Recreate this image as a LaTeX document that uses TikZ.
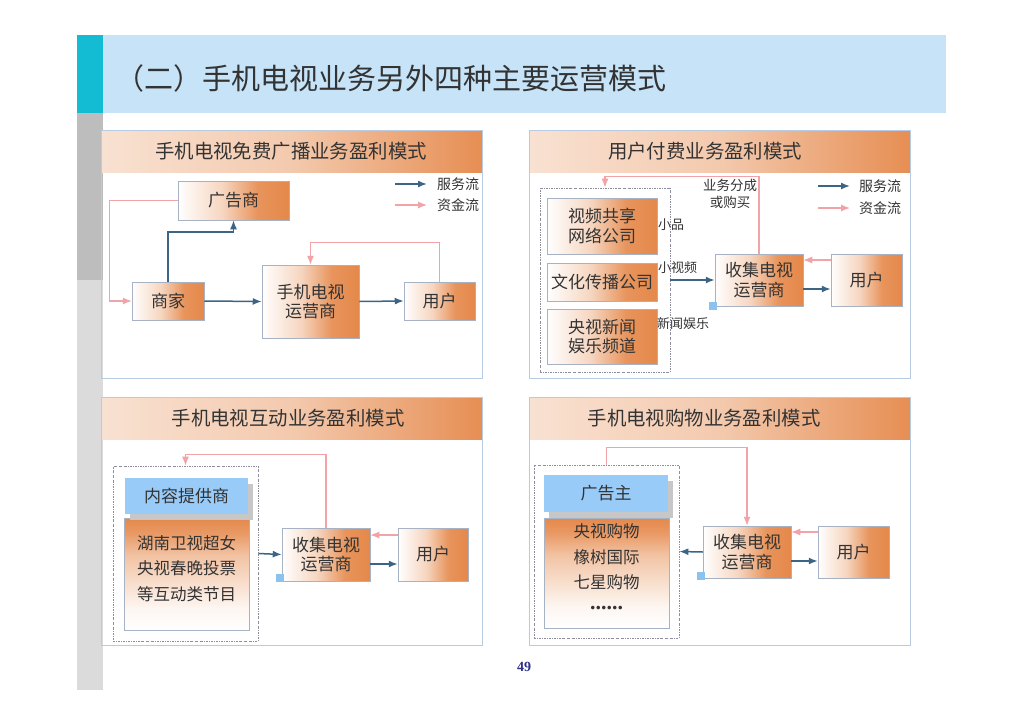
\documentclass[tikz,border=0pt]{standalone}
\usepackage{fontspec}
\setmainfont{Noto Sans CJK SC}
\newfontfamily\latinserif{Liberation Serif}
\usetikzlibrary{arrows.meta,shadows}

\definecolor{boxor}{HTML}{E5884A}
\definecolor{boxline}{HTML}{A7B3C4}
\definecolor{panelline}{HTML}{B7CBE2}
\definecolor{svcblue}{HTML}{3C6585}
\definecolor{fundpink}{HTML}{F2A3A8}
\definecolor{sqblue}{HTML}{8CC3EE}
\definecolor{provblue}{HTML}{99CBF8}
\definecolor{grpgray}{HTML}{8E8E9E}
\definecolor{txtgray}{HTML}{333333}
\definecolor{bandblue}{HTML}{C6E3F8}
\definecolor{bandteal}{HTML}{13BCD2}
\definecolor{numblue}{HTML}{2E2E8B}

\pgfdeclarehorizontalshading{boxshade}{100bp}{color(0bp)=(white); color(25bp)=(white); color(45bp)=(boxor!35); color(61bp)=(boxor!90); color(75bp)=(boxor); color(100bp)=(boxor)}
\pgfdeclarehorizontalshading{headshade}{100bp}{color(0bp)=(boxor!25); color(25bp)=(boxor!25); color(50bp)=(boxor!45); color(75bp)=(boxor!95); color(100bp)=(boxor!95)}
\pgfdeclareverticalshading{listshade}{100bp}{color(0bp)=(white); color(25bp)=(white); color(35bp)=(boxor!8); color(58bp)=(boxor!50); color(68bp)=(boxor!85); color(75bp)=(boxor); color(100bp)=(boxor)}

\tikzset{
  panel/.style={draw=panelline, line width=0.8pt},
  flowbox/.style={draw=boxline, line width=0.5pt, shade, shading=boxshade, align=center,
    font=\fontsize{17}{19.5}\selectfont, text=txtgray, inner sep=1pt},
  listbox/.style={draw=boxline, line width=0.5pt, shade, shading=listshade},
  provbox/.style={fill=provblue, font=\fontsize{17}{19}\selectfont, text=txtgray,
    drop shadow={shadow xshift=5pt, shadow yshift=-6pt, fill=black!22, opacity=1}},
  grpbox/.style={draw=grpgray, line width=0.7pt, dash pattern=on 2pt off 1.2pt on 0.5pt off 1.2pt},
  cornersq/.style={fill=sqblue, minimum size=8pt, inner sep=0pt},
  svc/.style={draw=svcblue, line width=1.5pt, -{Latex[length=9pt,width=7pt]}},
  fund/.style={draw=fundpink, line width=1.2pt, -{Latex[length=9pt,width=7pt]}},
  headtxt/.style={font=\fontsize{19.4}{21}\selectfont, text=txtgray},
  listtxt/.style={font=\fontsize{16.5}{25.5}\selectfont, text=txtgray, align=center},
  note/.style={font=\fontsize{13}{17}\selectfont, text=txtgray, inner sep=0pt},
  lgtxt/.style={font=\fontsize{14}{17}\selectfont, text=txtgray, anchor=west, inner sep=0pt}
}

\begin{document}
\begin{tikzpicture}[x=1pt,y=-1pt]
\useasboundingbox[fill=white] (0,0) rectangle (1023,723);

\fill[bandteal] (77,35) rectangle (103,113);
\fill[bandblue] (103,35) rectangle (946,113);
\fill[black!26] (77,113) rectangle (103,280);
\fill[black!14] (77,280) rectangle (103,690);
\node[anchor=west, font=\fontsize{29}{33}\selectfont, text=black!80] (title) at (112,78) {（二）手机电视业务另外四种主要运营模式};

\shade[shading=headshade] (101,130) rectangle (482,172);
\shade[shading=headshade] (529,130) rectangle (910,172);
\shade[shading=headshade] (101,397) rectangle (482,439);
\shade[shading=headshade] (529,397) rectangle (910,439);
\draw[panel] (101,130) rectangle (482,378);
\draw[panel] (529,130) rectangle (910,378);
\draw[panel] (101,397) rectangle (482,645);
\draw[panel] (529,397) rectangle (910,645);
\node[headtxt] (h1) at (291,151) {手机电视免费广播业务盈利模式};
\node[headtxt] (h2) at (705,151) {用户付费业务盈利模式};
\node[headtxt] (h3) at (288,418) {手机电视互动业务盈利模式};
\node[headtxt] (h4) at (704,418) {手机电视购物业务盈利模式};

\node[flowbox, minimum width=111, minimum height=39] (ggs) at (233.5,200.5) {广告商};
\node[flowbox, minimum width=72, minimum height=38] (sj) at (168,301) {商家};
\node[flowbox, minimum width=97, minimum height=73] (yys) at (310.5,301.5) {手机电视\\运营商};
\node[flowbox, minimum width=71, minimum height=38] (yh1) at (439.5,301) {用户};
\coordinate (lg1a) at (395,184);
\coordinate (lg1b) at (427,184);
\coordinate (lg1c) at (395,205);
\coordinate (lg1d) at (427,205);
\node[lgtxt] (lg1s) at (437,184) {服务流};
\node[lgtxt] (lg1f) at (437,205) {资金流};

\draw[svc] (lg1a) -- (lg1b);
\draw[fund] (lg1c) -- (lg1d);
\draw[svc] (sj.east) -- (yys.west);
\draw[svc] (yys.east) -- (yh1.west);
\draw[svc] (sj.north) -- ++(0,-50) -| (ggs.south);
\draw[fund] (ggs.west) -- ++(-68,0) |- (sj.west);
\draw[fund] (yh1.north) -- ++(0,-39) -| (yys.north);

\node[grpbox, minimum width=130, minimum height=184] (grp2) at (605,280) {};
\node[flowbox, minimum width=110, minimum height=56] (spgx) at (602,226) {视频共享\\网络公司};
\node[flowbox, minimum width=110, minimum height=38] (whcb) at (602,282) {文化传播公司};
\node[flowbox, minimum width=110, minimum height=55] (ysxw) at (602,336.5) {央视新闻\\娱乐频道};
\node[flowbox, minimum width=88, minimum height=52] (yys2) at (759,280) {收集电视\\运营商};
\node[flowbox, minimum width=71, minimum height=52] (yh2) at (866.5,280) {用户};
\node[cornersq] (sq2) at (713,305.5) {};
\node[note, anchor=west] (xp) at (658,225) {小品};
\node[note, anchor=west] (xsp) at (658,268) {小视频};
\node[note, anchor=west] (xwyl) at (657,324) {新闻娱乐};
\node[note, align=center, font=\fontsize{13.5}{17}\selectfont] (fc) at (730,194) {业务分成\\或购买};
\coordinate (lg2a) at (818,186);
\coordinate (lg2b) at (850,186);
\coordinate (lg2c) at (818,208);
\coordinate (lg2d) at (850,208);
\node[lgtxt] (lg2s) at (859,186) {服务流};
\node[lgtxt] (lg2f) at (859,208) {资金流};

\draw[svc] (lg2a) -- (lg2b);
\draw[fund] (lg2c) -- (lg2d);
\draw[svc] (grp2.east) -- (yys2.west);
\draw[svc] ([yshift=-9pt]yys2.east) -- ([yshift=-9pt]yh2.west);
\draw[fund] ([yshift=20pt]yh2.west) -- ([yshift=20pt]yys2.east);
\draw[fund] (yys2.north) -- ++(0,-77) -| (grp2.north);

\node[grpbox, minimum width=145, minimum height=175] (grp3) at (185.5,553.5) {};
\node[listbox, minimum width=125, minimum height=112] (jm3) at (186.5,574) {};
\node[provbox, minimum width=123, minimum height=36] (nr) at (186.5,496) {内容提供商};
\node[listtxt] (jm3t) at (186.5,568.5) {湖南卫视超女\\央视春晚投票\\等互动类节目};
\node[flowbox, minimum width=88, minimum height=53] (yys3) at (326,554.5) {收集电视\\运营商};
\node[flowbox, minimum width=70, minimum height=53] (yh3) at (433,554.5) {用户};
\node[cornersq] (sq3) at (280,578) {};

\draw[svc] (grp3.east) -- (yys3.west);
\draw[svc] ([yshift=-9.5pt]yys3.east) -- ([yshift=-9.5pt]yh3.west);
\draw[fund] ([yshift=19.5pt]yh3.west) -- ([yshift=19.5pt]yys3.east);
\draw[fund] (yys3.north) -- ++(0,-73) -| (grp3.north);

\node[grpbox, minimum width=145, minimum height=173] (grp4) at (606.5,551.5) {};
\node[listbox, minimum width=125, minimum height=110] (gw4) at (606.5,573) {};
\node[provbox, minimum width=124, minimum height=37] (ggz) at (606,493.5) {广告主};
\node[listtxt] (gw4t) at (606.5,557) {央视购物\\橡树国际\\七星购物};
\node[font=\fontsize{22}{24}\latinserif\bfseries, text=txtgray] (dots) at (606.5,608) {......};
\node[flowbox, minimum width=88, minimum height=52] (yys4) at (747,552) {收集电视\\运营商};
\node[flowbox, minimum width=71, minimum height=52] (yh4) at (853.5,552) {用户};
\node[cornersq] (sq4) at (700.5,575.5) {};

\draw[svc] (yys4.west) -- (grp4.east);
\draw[svc] ([yshift=-9pt]yys4.east) -- ([yshift=-9pt]yh4.west);
\draw[fund] ([yshift=20pt]yh4.west) -- ([yshift=20pt]yys4.east);
\draw[fund] (grp4.north) -- ++(0,-17) -| (yys4.north);

\node[font=\fontsize{14}{16}\latinserif\bfseries, text=numblue] (pnum) at (524,667) {49};
\end{tikzpicture}
\end{document}
